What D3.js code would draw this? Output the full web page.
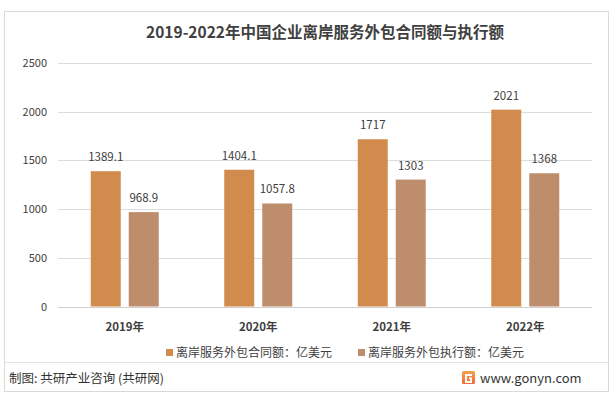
<!DOCTYPE html>
<html>
<head>
<meta charset="utf-8">
<script src="https://cdn.jsdelivr.net/npm/d3@7"></script>
<style>
  body { margin: 0; background: #fff; }
  svg text { font-family: "Microsoft YaHei", "Noto Sans CJK SC", sans-serif; }
</style>
</head>
<body>
<svg id="chart" width="615" height="397"></svg>
<script>
// data
const years = ["2019年", "2020年", "2021年", "2022年"];
const contractValues = [1389.1, 1404.1, 1717, 2021];
const executedValues = [968.9, 1057.8, 1303, 1368];
const yTicks = [0, 500, 1000, 1500, 2000, 2500];
const seriesNames = ["离岸服务外包合同额：亿美元", "离岸服务外包执行额：亿美元"];
const seriesColors = ["#d18b4d", "#bd8d6c"];

const svg = d3.select("#chart");

// outer frame
svg.append("rect").attr("x", 4.5).attr("y", 11.5).attr("width", 604).attr("height", 380)
  .attr("fill", "#fff").attr("stroke", "#d9d9d9");
svg.append("line").attr("x1", 4.5).attr("x2", 608.5).attr("y1", 362.5).attr("y2", 362.5)
  .attr("stroke", "#e3e3e3");

// title
svg.append("text").attr("x", 325).attr("y", 38).attr("text-anchor", "middle")
  .attr("font-size", 15.5).attr("font-weight", "bold").attr("fill", "#404040")
  .text("2019-2022年中国企业离岸服务外包合同额与执行额");

const m = {l: 58, r: 592, t: 63, b: 306.5};

const x = d3.scaleBand().domain(years).range([m.l, m.r]);
const y = d3.scaleLinear().domain([0, 2500]).range([m.b, m.t]);

// gridlines + y labels
const g = svg.append("g");
g.selectAll(".grid").data(yTicks).enter().append("line")
  .attr("x1", m.l).attr("x2", m.r)
  .attr("y1", d => Math.round(y(d)) + 0.5).attr("y2", d => Math.round(y(d)) + 0.5)
  .attr("stroke", d => d === 0 ? "#d0d0d0" : "#dcdcdc");

g.selectAll(".ylab").data(yTicks).enter().append("text")
  .attr("x", 47).attr("y", d => y(d) + 4).attr("text-anchor", "end")
  .attr("font-size", 11).attr("fill", "#404040").text(d => d);

// bars
const barW = 30, gap = 4;
const series = [contractValues, executedValues];
series.forEach(function(vals, si) {
  const bars = svg.append("g").selectAll("g").data(vals).enter().append("g");
  bars.append("rect")
    .attr("x", (d, i) => x(years[i]) + x.bandwidth() / 2 + (si === 0 ? -gap - barW : gap))
    .attr("y", d => y(d))
    .attr("width", barW)
    .attr("height", d => y(0) - y(d))
    .attr("fill", seriesColors[si]);
  bars.append("text")
    .attr("x", (d, i) => x(years[i]) + x.bandwidth() / 2 + (si === 0 ? -gap - barW / 2 : gap + barW / 2))
    .attr("y", d => y(d) - 10)
    .attr("text-anchor", "middle").attr("font-size", 11.5).attr("fill", "#404040")
    .text(d => d);
});

// x labels
svg.append("g").selectAll("text").data(years).enter().append("text")
  .attr("x", d => x(d) + x.bandwidth() / 2).attr("y", 331)
  .attr("text-anchor", "middle").attr("font-size", 11.5).attr("font-weight", "bold")
  .attr("fill", "#404040").text(d => d);

// legend
const legX = [166, 358];
seriesNames.forEach(function(name, i) {
  svg.append("rect").attr("x", legX[i]).attr("y", 349).attr("width", 7).attr("height", 7)
    .attr("fill", seriesColors[i]);
  svg.append("text").attr("x", legX[i] + 10).attr("y", 357)
    .attr("font-size", 12).attr("fill", "#404040").text(name);
});

// footer
svg.append("text").attr("x", 9).attr("y", 383).attr("font-size", 12.5).attr("fill", "#333")
  .text("制图: 共研产业咨询 (共研网)");

const logo = svg.append("g").attr("transform", "translate(462,371)");
const grad = svg.append("defs").append("linearGradient").attr("id", "lg")
  .attr("x1", 0).attr("y1", 0).attr("x2", 0).attr("y2", 1);
grad.append("stop").attr("offset", 0).attr("stop-color", "#f7a14a");
grad.append("stop").attr("offset", 1).attr("stop-color", "#ef6a3a");
logo.append("rect").attr("width", 13).attr("height", 13).attr("rx", 1.5).attr("fill", "url(#lg)");
logo.append("path").attr("d", "M3,3 H10 V5 H5 V10 H8 V8 H7 V6.5 H10 V12 H3 Z").attr("fill", "#fff");
svg.append("text").attr("x", 480).attr("y", 383).attr("font-size", 13).attr("fill", "#333")
  .attr("font-family", "Noto Sans, sans-serif").text("www.gonyn.com");
</script>
</body>
</html>
